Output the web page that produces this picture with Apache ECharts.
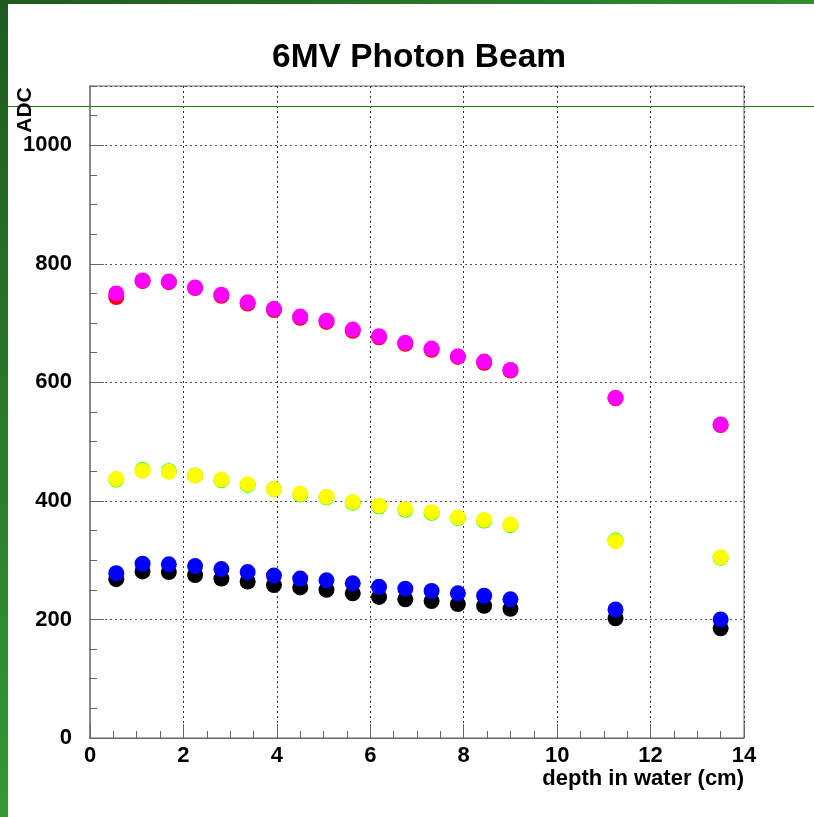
<!DOCTYPE html>
<html>
<head>
<meta charset="utf-8">
<script src="https://cdn.jsdelivr.net/npm/echarts@6/dist/echarts.min.js"></script>
<style>
  html, body { margin: 0; padding: 0; background: #fff; }
  #chart { width: 814px; height: 817px; }
</style>
</head>
<body>
<div id="chart"></div>
<script>
// depth in water (cm)
var depth = [0.5625, 1.125, 1.6875, 2.25, 2.8125, 3.375, 3.9375, 4.5, 5.0625, 5.625,
             6.1875, 6.75, 7.3125, 7.875, 8.4375, 9.0, 11.25, 13.5];
// ADC readings per channel
var red     = [744, 771, 769, 759, 746, 733, 722, 709, 702, 687, 676, 665, 655, 643, 633, 620, 573, 528];
var magenta = [750, 772, 770, 760, 748, 735, 724, 711, 704, 689, 678, 667, 657, 644, 635, 621, 574, 529];
var green   = [436, 452, 450, 443, 435, 427, 420, 411, 406, 397, 391, 385, 380, 371, 367, 359, 333, 304];
var yellow  = [437, 451, 449, 443, 436, 428, 420, 412, 407, 398, 392, 386, 381, 372, 368, 360, 332, 305];
var black   = [268, 281, 280, 275, 269, 264, 258, 254, 250, 244, 238, 234, 231, 226, 223, 218, 202, 185];
var blue    = [278, 294, 293, 290, 285, 280, 274, 269, 266, 261, 255, 252, 248, 244, 240, 234, 217, 200];

var FONT = '"Liberation Sans", Arial, Helvetica, sans-serif';

function pts(vals) {
    return vals.map(function (v, i) { return [depth[i], v]; });
}
function mk(name, vals, color) {
    return {
        name: name,
        type: 'scatter',
        symbol: 'circle',
        symbolSize: 16,
        itemStyle: { color: color, opacity: 1 },
        data: pts(vals),
        animation: false
    };
}

var myChart = echarts.init(document.getElementById('chart'));
var option = {
    backgroundColor: '#fff',
    animation: false,
    title: {
        text: '6MV Photon Beam',
        left: 267,
        top: 36,
        textStyle: { fontFamily: FONT, fontWeight: 'bold', fontSize: 33.5, color: '#000' }
    },
    grid: {
        left: 90, right: 70, top: 86, bottom: 79,
        show: true, borderColor: '#666', borderWidth: 1
    },
    xAxis: {
        type: 'value',
        min: 0, max: 14, interval: 2,
        name: 'depth in water (cm)',
        nameLocation: 'end',
        nameGap: 0,
        nameTextStyle: {
            fontFamily: FONT, fontWeight: 'bold', fontSize: 22, color: '#000',
            align: 'right', verticalAlign: 'top', padding: [30, 0, 0, 0]
        },
        axisLine: { lineStyle: { color: '#666', width: 1 } },
        axisTick: { inside: true, length: 14, lineStyle: { color: '#666' } },
        minorTick: { show: true, splitNumber: 4, length: 7, lineStyle: { color: '#666' } },
        axisLabel: { fontFamily: FONT, fontWeight: 'bold', fontSize: 22, color: '#000', margin: 7 },
        splitLine: { show: true, lineStyle: { color: '#333', type: [2, 3], width: 1 } }
    },
    yAxis: [{
        type: 'value',
        min: 0, max: 1100, interval: 200,
        axisLine: { show: true, lineStyle: { color: '#888', width: 2 } },
        axisTick: { inside: true, length: 14, lineStyle: { color: '#666' } },
        axisLabel: {
            fontFamily: FONT, fontWeight: 'bold', fontSize: 22, color: '#000', margin: 18,
            showMaxLabel: false,
            formatter: function (v) { return String(v); }
        },
        splitLine: { show: true, lineStyle: { color: '#555', type: [2, 3], width: 1 } }
    }, {
        // minor ticks every 50
        type: 'value',
        position: 'left',
        min: 0, max: 1100, interval: 50,
        axisLine: { show: false },
        axisTick: { show: true, inside: true, length: 7, lineStyle: { color: '#666' } },
        axisLabel: { show: false },
        splitLine: { show: false }
    }],
    series: [
        mk('red', red, '#ff0000'),
        mk('magenta', magenta, '#ff00ff'),
        mk('green', green, '#00ff00'),
        mk('yellow', yellow, '#ffff00'),
        mk('black', black, '#000000'),
        mk('blue', blue, '#0000ff')
    ],
    graphic: [
        {
            type: 'rect', silent: true, z: 100,
            shape: { x: 0, y: 0, width: 8, height: 817 },
            style: { fill: new echarts.graphic.LinearGradient(0, 0, 0, 1, [
                { offset: 0, color: '#1e5a1e' }, { offset: 1, color: '#339933' }]) }
        },
        {
            type: 'rect', silent: true, z: 100,
            shape: { x: 0, y: 0, width: 814, height: 4 },
            style: { fill: new echarts.graphic.LinearGradient(0, 0, 1, 0, [
                { offset: 0, color: '#1e5a1e' }, { offset: 1, color: '#2f8f2f' }]) }
        },
        {
            type: 'line', silent: true, z: 100,
            shape: { x1: 8, y1: 106.5, x2: 814, y2: 106.5 },
            style: { stroke: '#1f7a1f', lineWidth: 1 }
        },
        {
            type: 'text', silent: true, z: 100,
            x: 25, y: 110, rotation: Math.PI / 2,
            style: {
                text: 'ADC', fill: '#000', font: 'bold 21px ' + FONT,
                align: 'center', verticalAlign: 'middle'
            }
        }
    ]
};
myChart.setOption(option);
</script>
</body>
</html>
